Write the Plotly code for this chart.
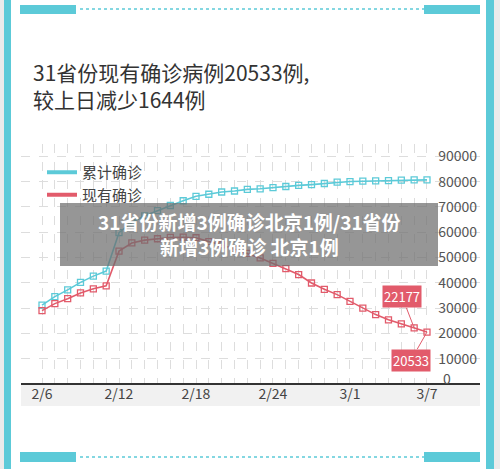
import plotly.graph_objects as go

# Data.
dates = ['2/6', '2/7', '2/8', '2/9', '2/10', '2/11', '2/12', '2/13', '2/14', '2/15',
         '2/16', '2/17', '2/18', '2/19', '2/20', '2/21', '2/22', '2/23', '2/24', '2/25',
         '2/26', '2/27', '2/28', '2/29', '3/1', '3/2', '3/3', '3/4', '3/5', '3/6', '3/7']
cumulative = [31161, 34546, 37198, 40171, 42638, 44653, 59804, 63851, 66492, 68500,
              70548, 72436, 74185, 75002, 75891, 76288, 76936, 77150, 77658, 78064,
              78497, 78824, 79251, 79824, 80026, 80151, 80270, 80409, 80552, 80651, 80695]
existing = [28985, 31774, 33738, 35982, 37626, 38800, 52526, 55748, 56873, 57416,
            57934, 58016, 57805, 56303, 54965, 53284, 51606, 49824, 47672, 45604,
            43258, 39919, 37414, 35329, 32652, 30004, 27433, 25352, 23784, 22177, 20533]
label_every = 6

TEAL = '#5ccad8'
RED = '#e25b6b'

# Plot area in pixels (for placing the decorations around it).
W, H = 500, 469
L, R, T, B = 21, 480, 144, 384
Y_TOP = (B - T) / 25.3 * 10000


def px(x):
    return (x - L) / (R - L)


def py(y):
    return (B - y) / (B - T)


idx = list(range(len(dates)))
ticktext = [d if i % label_every == 0 else '' for i, d in enumerate(dates)]

fig = go.Figure()
for name, vals, col in [('累计确诊', cumulative, TEAL), ('现有确诊', existing, RED)]:
    fig.add_trace(go.Scatter(
        x=idx, y=vals, name=name, mode='lines+markers', showlegend=False,
        line=dict(color=col, width=1.6),
        marker=dict(symbol='square-open', size=6, color=col, line=dict(width=1.3)),
    ))
    # legend entry: thick line only
    fig.add_trace(go.Scatter(
        x=[None], y=[None], name=name, mode='lines',
        line=dict(color=col, width=4),
    ))

shapes = [
    # white card with teal side borders
    dict(type='rect', xref='paper', yref='paper', x0=px(4), x1=px(494), y0=py(H), y1=py(0),
         fillcolor=TEAL, line_width=0, layer='below'),
    dict(type='rect', xref='paper', yref='paper', x0=px(11), x1=px(486), y0=py(H), y1=py(0),
         fillcolor='white', line_width=0, layer='below'),
    # top / bottom decorative bars
    dict(type='rect', xref='paper', yref='paper', x0=px(20), x1=px(76), y0=py(14), y1=py(5),
         fillcolor=TEAL, line_width=0),
    dict(type='rect', xref='paper', yref='paper', x0=px(424), x1=px(480), y0=py(14), y1=py(5),
         fillcolor=TEAL, line_width=0),
    dict(type='line', xref='paper', yref='paper', x0=px(80), x1=px(424), y0=py(9), y1=py(9),
         line=dict(color=TEAL, width=1.5, dash='dot')),
    dict(type='rect', xref='paper', yref='paper', x0=px(20), x1=px(76), y0=py(462), y1=py(452),
         fillcolor=TEAL, line_width=0),
    dict(type='rect', xref='paper', yref='paper', x0=px(424), x1=px(480), y0=py(462), y1=py(452),
         fillcolor=TEAL, line_width=0),
    dict(type='line', xref='paper', yref='paper', x0=px(80), x1=px(424), y0=py(457), y1=py(457),
         line=dict(color=TEAL, width=1.5, dash='dot')),
    # x label band
    dict(type='rect', xref='paper', yref='paper', x0=0, x1=1, y0=py(406), y1=py(384),
         fillcolor='#f1f1f1', line_width=0, layer='below'),
    dict(type='line', xref='paper', yref='paper', x0=0, x1=1, y0=0, y1=0,
         line=dict(color='#333333', width=2)),
    # watermark banner
    dict(type='rect', xref='paper', yref='paper', x0=px(60), x1=px(438), y0=py(266), y1=py(203),
         fillcolor='rgba(110,110,110,0.72)', line_width=0),
]

annotations = [
    dict(xref='paper', yref='paper', x=px(31), y=py(85), xanchor='left', yanchor='middle',
         text='31省份现有确诊病例20533例,<br>较上日减少1644例', align='left', showarrow=False,
         font=dict(size=21, color='#333333')),
    dict(xref='paper', yref='paper', x=px(249), y=py(234), xanchor='center', yanchor='middle',
         text='<b>31省份新增3例确诊北京1例/31省份<br>新增3例确诊 北京1例</b>', showarrow=False,
         font=dict(size=19, color='white')),
    dict(x=idx[-2], y=existing[-2], text=f'{existing[-2]}', showarrow=True, arrowhead=0,
         arrowcolor=RED, arrowwidth=1, ax=-12, ay=-31, bgcolor=RED,
         font=dict(size=13, color='white'), borderpad=1),
    dict(x=idx[-1], y=existing[-1], text=f'{existing[-1]}', showarrow=True, arrowhead=0,
         arrowcolor=RED, arrowwidth=1, ax=-16, ay=28, bgcolor=RED,
         font=dict(size=13, color='white'), borderpad=1),
    # zero tick label sits just above the axis line
    dict(xref='paper', yref='y', x=px(442), y=0, xanchor='left', yanchor='bottom',
         text='0', showarrow=False, font=dict(size=14, color='#555555'),
         borderpad=0, yshift=-5),
]

fig.update_layout(
    width=W, height=H,
    margin=dict(l=L, r=W - R, t=T, b=H - B, autoexpand=False),
    paper_bgcolor='#ebebeb', plot_bgcolor='rgba(0,0,0,0)',
    font=dict(family='Noto Sans CJK SC, sans-serif', color='#444444'),
    shapes=shapes, annotations=annotations,
    legend=dict(x=px(42), y=py(156), xanchor='left', yanchor='top',
                bgcolor='rgba(0,0,0,0)', font=dict(size=15, color='#444444'),
                itemwidth=30, tracegroupgap=0),
)

fig.update_xaxes(
    range=[-21 / 12.83, 30 + 53 / 12.83], automargin=False,
    tickvals=idx, ticktext=ticktext, ticks='',
    showgrid=True, gridcolor='#dddddd', griddash='dash', gridwidth=1,
    zeroline=False, showline=False,
    tickfont=dict(size=14, color='#444444'),
)
fig.update_yaxes(
    range=[0, Y_TOP], tickvals=list(range(10000, 90001, 10000)), tickformat='d',
    side='right', ticklabelposition='inside', ticks='', automargin=False,
    showgrid=True, gridcolor='#dddddd', griddash='dash', gridwidth=1,
    zeroline=False, showline=False,
    tickfont=dict(size=14, color='#555555'),
)

fig.write_html('out.html', config={'displayModeBar': False},
               post_script="document.body.style.margin='0';")
